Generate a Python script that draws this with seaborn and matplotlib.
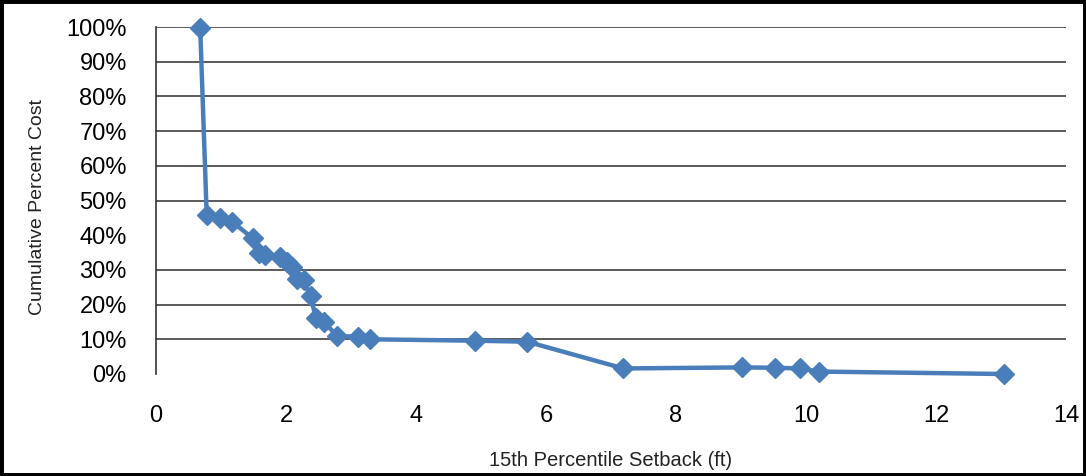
import matplotlib
matplotlib.use("Agg")
import matplotlib.pyplot as plt
from matplotlib.ticker import PercentFormatter, MultipleLocator
from matplotlib.patches import Rectangle
import seaborn as sns
import pandas as pd

setback_ft = [0.68, 0.78, 0.98, 1.17, 1.49, 1.58, 1.68, 1.91, 2.02, 2.09, 2.17, 2.27,
              2.38, 2.46, 2.58, 2.79, 3.10, 3.29, 4.91, 5.71, 7.19, 9.01, 9.53, 9.90,
              10.20, 13.04]
cum_pct_cost = [99.7, 45.8, 44.9, 43.9, 39.1, 34.8, 34.3, 33.8, 32.4, 30.9, 27.5, 27.1,
                22.5, 16.0, 15.1, 10.9, 10.8, 10.0, 9.6, 9.3, 1.6, 1.9, 1.8, 1.6,
                0.7, 0.0]
x_label = "15th Percentile Setback (ft)"
y_label = "Cumulative Percent Cost"

df = pd.DataFrame({"x": setback_ft, "y": cum_pct_cost})

sns.set_style("white")
plt.rcParams["font.family"] = ["Liberation Sans", "DejaVu Sans"]

fig = plt.figure(figsize=(10.86, 4.76), dpi=100)
ax = fig.add_axes([156 / 1086, 1 - 374 / 476, (1066 - 156) / 1086, (374 - 27) / 476])

blue = "#4A7EBB"
sns.lineplot(data=df, x="x", y="y", ax=ax, color=blue, linewidth=3.2,
             marker="D", markersize=10, markeredgecolor=blue, markeredgewidth=1,
             sort=False, zorder=3, clip_on=False)

ax.set_xlim(0, 14)
ax.set_ylim(0, 100)
ax.xaxis.set_major_locator(MultipleLocator(2))
ax.yaxis.set_major_locator(MultipleLocator(10))
ax.yaxis.set_major_formatter(PercentFormatter(100, decimals=0))

ax.grid(axis="y", color="#4d4d4d", linewidth=1.3)
ax.grid(axis="x", visible=False)
# the reference chart shows no gridline at 0% and 40%
for tick_val, gl in zip(ax.get_yticks(), ax.get_ygridlines()):
    if abs(tick_val) < 1e-9 or abs(tick_val - 40) < 1e-9:
        gl.set_visible(False)

for s in ["top", "right", "bottom"]:
    ax.spines[s].set_visible(False)
ax.spines["left"].set_color("#333333")
ax.spines["left"].set_linewidth(1.2)

ax.tick_params(axis="y", which="major", direction="out", length=4, width=1,
               color="#333333", pad=17, labelsize=17, labelcolor="black")
ax.tick_params(axis="x", which="major", length=0, pad=22, labelsize=17,
               labelcolor="black")

ax.set_xlabel(x_label, fontsize=14.5, color="#222222")
ax.set_ylabel(y_label, fontsize=14, color="#222222")
ax.xaxis.set_label_coords(0.5, -0.222)
ax.yaxis.set_label_coords(-0.121, 0.48)

fig.patches.append(Rectangle((0, 0), 1, 1, transform=fig.transFigure, fill=False,
                             edgecolor="black", linewidth=5, zorder=10))

fig.savefig("out.png", dpi=100)
